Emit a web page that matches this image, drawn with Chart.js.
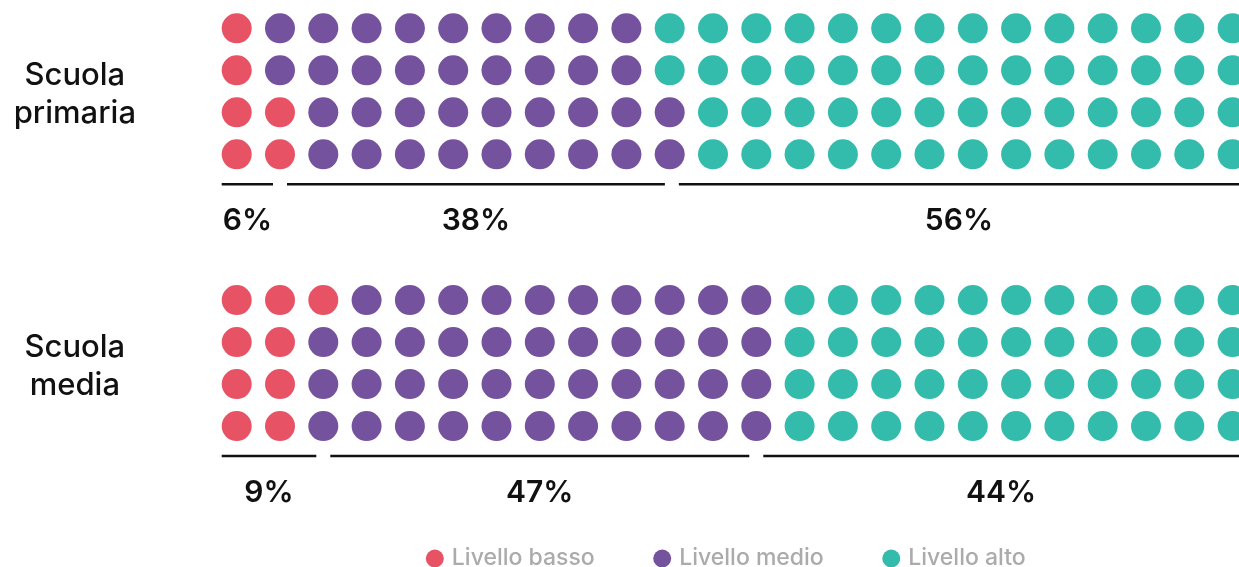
<!DOCTYPE html>
<html lang="it">
<head>
<meta charset="utf-8">
<title>Livelli di competenza</title>
<script src="https://cdn.jsdelivr.net/npm/chart.js@4.4.0/dist/chart.umd.min.js"></script>
<style>
  html, body { margin: 0; padding: 0; background: #fff; }
  #wrap { width: 1239px; height: 567px; }
</style>
</head>
<body>
<div id="wrap"><canvas id="chart" width="1239" height="567"></canvas></div>
<script>
'use strict';

// Groups (one block of 4 x 24 dots each)
var groupNames = [['Scuola', 'primaria'], ['Scuola', 'media']];
var levelNames = ['Livello basso', 'Livello medio', 'Livello alto'];
var levelColors = ['#E85265', '#74529D', '#33BBAC'];

// dots in each row, top to bottom: [basso, medio, alto]
var primariaRows = [[1, 9, 14], [1, 9, 14], [2, 9, 13], [2, 9, 13]];
var mediaRows = [[3, 10, 11], [2, 11, 11], [2, 11, 11], [2, 11, 11]];

// labels printed under each block
var primariaPct = ['6%', '38%', '56%'];
var mediaPct = ['9%', '47%', '44%'];

// column where the bracket under each block switches level
var primariaBreaks = [1, 10.05];
var mediaBreaks = [2, 12];

var groupRows = [primariaRows, mediaRows];
var groupPct = [primariaPct, mediaPct];
var groupBreaks = [primariaBreaks, mediaBreaks];
var groupRowStart = [0, 6.47];

var DOT_R = 15,
	GAP = 7,
	X_MIN = -0.478,
	X_MAX = 23.148,
	Y_MIN = -0.674,
	Y_MAX = -0.674 + 485 / 42;

// one point list per level
var levelPoints = levelNames.map(function () { return []; });
groupRows.forEach(function (rows, g) {
	rows.forEach(function (counts, r) {
		var col = 0;
		counts.forEach(function (n, l) {
			for (var i = 0; i < n; i++) {
				levelPoints[l].push({ x: col, y: groupRowStart[g] + r });
				col++;
			}
		});
	});
});

// Brackets and percentages under each block
var bracketPlugin = {
	id: 'brackets',
	afterDatasetsDraw: function (chart) {
		var ctx = chart.ctx,
			area = chart.chartArea,
			x = chart.scales.x,
			y = chart.scales.y;

		ctx.save();
		ctx.strokeStyle = '#111';
		ctx.lineWidth = 2.6;
		ctx.fillStyle = '#111';
		ctx.font = '600 30px Inter';
		ctx.textAlign = 'center';
		ctx.textBaseline = 'middle';

		groupRowStart.forEach(function (row0, g) {
			var lineY = y.getPixelForValue(row0 + 3) + 30,
				edges = [x.getPixelForValue(0) - DOT_R]
					.concat(groupBreaks[g].map(function (b) { return x.getPixelForValue(b); }))
					.concat([area.right]);

			for (var i = 0; i < 3; i++) {
				var a = edges[i] + (i > 0 ? GAP : 0),
					b = edges[i + 1] - (i < 2 ? GAP : 0);
				ctx.beginPath();
				ctx.moveTo(a, lineY);
				ctx.lineTo(b, lineY);
				ctx.stroke();
				ctx.fillText(groupPct[g][i], (a + b) / 2, lineY + 36.5);
			}
		});
		ctx.restore();
	}
};

Chart.defaults.font.family = 'Inter';

new Chart(document.getElementById('chart'), {
	type: 'scatter',
	data: {
		datasets: levelNames.map(function (name, l) {
			return {
				label: name,
				data: levelPoints[l],
				backgroundColor: levelColors[l],
				borderColor: levelColors[l],
				borderWidth: 0,
				pointStyle: 'circle',
				pointRadius: DOT_R,
				pointHoverRadius: DOT_R,
				clip: false
			};
		})
	},
	options: {
		responsive: false,
		devicePixelRatio: 1,
		animation: false,
		events: [],
		layout: {
			autoPadding: false,
			padding: { left: 0, right: 0, top: 0, bottom: -13 }
		},
		scales: {
			x: {
				type: 'linear',
				display: false,
				min: X_MIN,
				max: X_MAX
			},
			y: {
				type: 'linear',
				reverse: true,
				min: Y_MIN,
				max: Y_MAX,
				grid: { display: false, drawTicks: false },
				border: { display: false },
				afterBuildTicks: function (scale) {
					scale.ticks = groupRowStart.map(function (v) { return { value: v + 1.58 }; });
				},
				afterFit: function (scale) {
					// labels sit well inside the plot height, no overhang to reserve
					scale.width = 216;
					scale.paddingTop = 0;
					scale.paddingBottom = 0;
				},
				ticks: {
					autoSkip: false,
					crossAlign: 'center',
					padding: 80,
					color: '#111',
					font: { family: 'Inter', size: 31, weight: '500', lineHeight: 1.24 },
					callback: function (value, index) {
						return groupNames[index];
					}
				}
			}
		},
		plugins: {
			tooltip: { enabled: false },
			legend: {
				position: 'bottom',
				fullSize: false,
				labels: {
					usePointStyle: true,
					pointStyle: 'circle',
					boxWidth: 11,
					boxHeight: 12.7,
					padding: 62,
					color: '#ababab',
					font: { family: 'Inter', size: 23, weight: '500' }
				}
			}
		}
	},
	plugins: [bracketPlugin]
});
</script>
</body>
</html>
